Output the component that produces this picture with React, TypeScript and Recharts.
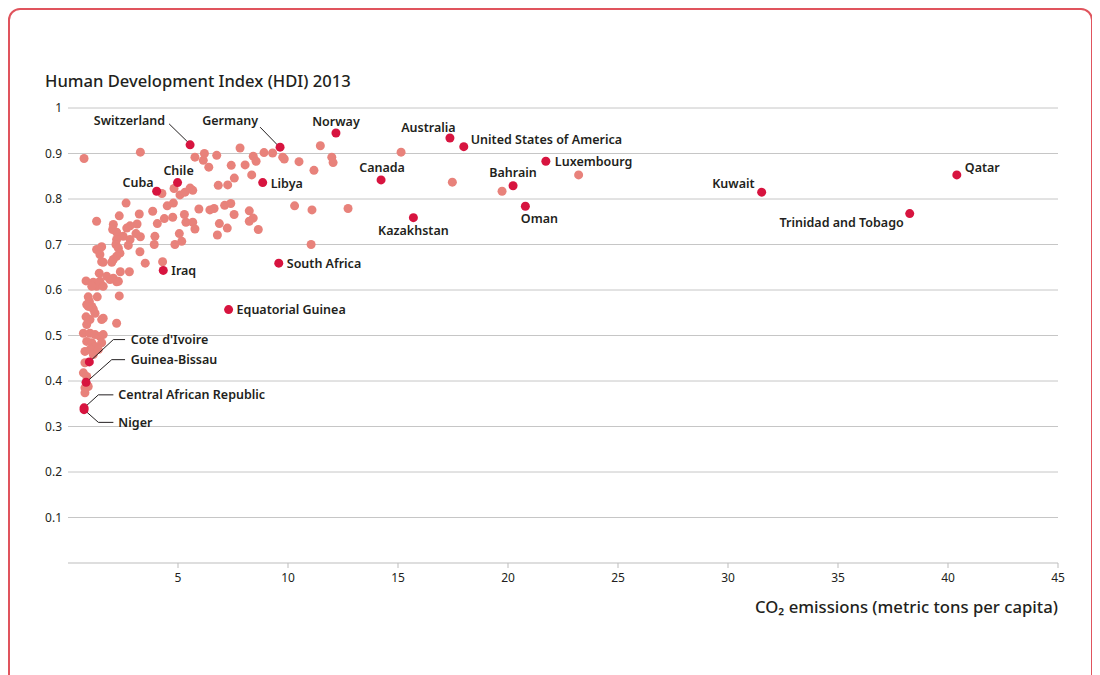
import { ScatterChart, Scatter, XAxis, YAxis, CartesianGrid } from 'recharts';

// CO2 emissions (metric tons per capita) vs HDI 2013
const xTicks = [5, 10, 15, 20, 25, 30, 35, 40, 45];
const yTicks = [0.1, 0.2, 0.3, 0.4, 0.5, 0.6, 0.7, 0.8, 0.9, 1];

const namedCountries = [
    'Switzerland', 'Germany', 'Norway', 'Australia', 'United States of America', 'Canada',
    'Kazakhstan', 'Bahrain', 'Oman', 'Luxembourg', 'Kuwait', 'Qatar', 'Trinidad and Tobago',
    'Chile', 'Cuba', 'Libya', 'Iraq', 'South Africa', 'Equatorial Guinea',
    "Cote d'Ivoire", 'Guinea-Bissau', 'Central African Republic', 'Niger',
];
const namedCO2 = [
    5.55, 9.64, 12.18, 17.36, 17.99, 14.23,
    15.7, 20.23, 20.79, 21.72, 31.53, 40.4, 38.26,
    4.98, 4.03, 8.85, 4.33, 9.58, 7.3,
    0.97, 0.82, 0.73, 0.73,
];
const namedHDI = [
    0.919, 0.914, 0.945, 0.934, 0.915, 0.842,
    0.759, 0.829, 0.784, 0.883, 0.815, 0.853, 0.768,
    0.836, 0.817, 0.836, 0.643, 0.659, 0.557,
    0.442, 0.397, 0.341, 0.337,
];

// other countries: [co2, hdi]
const otherCountries: [number, number][] = [
    [0.73, 0.889], [3.29, 0.903], [5.77, 0.892], [6.2, 0.9], [6.15, 0.885], [6.76, 0.896], [6.4, 0.87], [7.82, 0.912], [7.42, 0.874], [8.05, 0.875],
    [8.42, 0.894], [8.55, 0.883], [8.91, 0.902], [9.3, 0.901], [9.76, 0.892], [9.83, 0.888], [10.5, 0.882], [11.47, 0.917], [11.99, 0.892], [12.05, 0.88],
    [11.18, 0.863], [8.35, 0.853], [7.56, 0.846], [7.26, 0.831], [6.83, 0.83], [4.82, 0.823], [5.09, 0.809], [5.32, 0.815], [5.55, 0.824], [5.67, 0.819],
    [4.27, 0.812], [15.14, 0.903], [17.47, 0.837], [19.73, 0.817], [23.21, 0.853],
    [2.64, 0.791], [3.85, 0.773], [4.51, 0.785], [4.79, 0.791], [4.06, 0.746], [4.38, 0.757], [4.76, 0.76], [5.29, 0.766], [5.36, 0.749], [5.67, 0.749],
    [5.77, 0.734], [5.95, 0.778], [6.45, 0.776], [6.64, 0.779], [7.12, 0.786], [7.4, 0.79], [7.55, 0.766], [8.24, 0.774], [8.42, 0.758], [8.24, 0.751],
    [8.65, 0.733], [7.24, 0.736], [6.88, 0.746], [6.79, 0.721], [10.3, 0.785], [11.09, 0.776], [12.73, 0.779], [11.05, 0.7], [5.06, 0.724], [5.17, 0.707],
    [4.86, 0.7], [3.95, 0.718], [3.92, 0.7], [3.24, 0.767], [3.14, 0.745], [3.29, 0.717], [3.09, 0.724], [2.82, 0.741], [2.67, 0.736], [2.33, 0.763],
    [2.06, 0.744], [2.03, 0.733], [2.21, 0.727], [2.51, 0.718], [2.82, 0.711], [2.74, 0.698], [1.3, 0.751], [2.21, 0.711], [2.18, 0.7], [2.29, 0.692],
    [3.27, 0.684], [3.51, 0.659], [4.3, 0.662], [1.3, 0.689], [1.53, 0.695], [2.36, 0.681], [2.21, 0.674], [2.06, 0.667], [1.99, 0.661], [1.45, 0.678],
    [1.53, 0.662], [1.6, 0.661], [2.79, 0.64], [2.38, 0.64], [0.82, 0.62], [1.15, 0.617], [1.3, 0.608], [1.08, 0.608], [1.42, 0.637], [1.45, 0.619],
    [1.76, 0.63], [1.91, 0.623], [2.21, 0.618], [1.6, 0.608], [2.06, 0.626], [2.29, 0.619],
    [1.33, 0.585], [0.92, 0.585], [0.97, 0.575], [0.85, 0.568], [2.33, 0.587], [1.08, 0.564], [1.15, 0.558], [0.82, 0.541], [1.0, 0.535], [1.53, 0.535],
    [1.6, 0.538], [2.21, 0.527], [0.92, 0.564], [1.23, 0.549], [0.85, 0.524],
    [0.7, 0.505], [1.0, 0.505], [1.23, 0.502], [1.45, 0.498], [1.6, 0.502], [1.53, 0.484], [0.85, 0.487], [1.08, 0.484], [1.23, 0.476], [0.77, 0.465],
    [1.0, 0.469], [1.15, 0.458], [1.38, 0.469], [0.77, 0.44], [0.7, 0.418], [0.85, 0.41], [0.77, 0.385], [0.92, 0.388], [0.77, 0.374],
];

// label placement, pixel offsets from the dot
type Placement = { anchor: 'start' | 'middle' | 'end'; dx: number; dy: number; leader?: [number, number][] };
const placements: Record<string, Placement> = {
    'Switzerland': { anchor: 'end', dx: -25, dy: -24, leader: [[-21, -21], [-2, -2.5]] },
    'Germany': { anchor: 'end', dx: -22, dy: -27, leader: [[-20, -20], [-2, -1.5]] },
    'Norway': { anchor: 'middle', dx: 0, dy: -12 },
    'Australia': { anchor: 'middle', dx: -21.5, dy: -11 },
    'United States of America': { anchor: 'start', dx: 7, dy: -7 },
    'Canada': { anchor: 'middle', dx: 1, dy: -12 },
    'Kazakhstan': { anchor: 'middle', dx: 0, dy: 13 },
    'Bahrain': { anchor: 'middle', dx: 0, dy: -13 },
    'Oman': { anchor: 'middle', dx: 14, dy: 12 },
    'Luxembourg': { anchor: 'start', dx: 9, dy: 0 },
    'Kuwait': { anchor: 'end', dx: -7, dy: -9 },
    'Qatar': { anchor: 'start', dx: 8, dy: -7 },
    'Trinidad and Tobago': { anchor: 'end', dx: -6, dy: 9 },
    'Chile': { anchor: 'middle', dx: 1, dy: -12 },
    'Cuba': { anchor: 'end', dx: -3, dy: -9 },
    'Libya': { anchor: 'start', dx: 8, dy: 1 },
    'Iraq': { anchor: 'start', dx: 8, dy: 0 },
    'South Africa': { anchor: 'start', dx: 8, dy: 0 },
    'Equatorial Guinea': { anchor: 'start', dx: 8, dy: 0 },
    "Cote d'Ivoire": { anchor: 'start', dx: 41.5, dy: -22.3, leader: [[0, 0], [24, -22.3], [35.7, -22.3]] },
    'Guinea-Bissau': { anchor: 'start', dx: 44.7, dy: -22.7, leader: [[0, 0], [25.7, -22.7], [39, -22.7]] },
    'Central African Republic': { anchor: 'start', dx: 34.3, dy: -13, leader: [[0, 0], [14.3, -13], [29.3, -13]] },
    'Niger': { anchor: 'start', dx: 34.3, dy: 13, leader: [[0, 0], [14.3, 12.7], [29.3, 12.7]] },
};

const FONT = '"Noto Sans", "Open Sans", sans-serif';
const INK = '#231f20';

const otherData = otherCountries.map(([x, y]) => ({ x, y }));
const namedData = namedCountries.map((name, i) => ({ name, x: namedCO2[i], y: namedHDI[i] }));

function OtherDot(props: any) {
    return <circle cx={props.cx} cy={props.cy} r={4.5} fill="#e8827b" />;
}

function NamedDot(props: any) {
    const { cx, cy, payload } = props;
    const p = placements[payload.name];
    return (
        <g>
            {p && p.leader && (
                <polyline
                    points={p.leader.map(([a, b]) => `${cx + a},${cy + b}`).join(' ')}
                    fill="none"
                    stroke={INK}
                    strokeWidth={1}
                />
            )}
            <circle cx={cx} cy={cy} r={4.5} fill="#d7143f" />
            {p && (
                <text
                    x={cx + p.dx}
                    y={cy + p.dy}
                    textAnchor={p.anchor}
                    dominantBaseline="central"
                    fontFamily={FONT}
                    fontSize={12.5}
                    fontWeight={600}
                    fill={INK}
                >
                    {payload.name}
                </text>
            )}
        </g>
    );
}

export default function App() {
    return (
        <div
            style={{
                position: 'relative',
                width: 1085,
                height: 700,
                border: '2px solid #e0545d',
                borderRadius: 12,
                boxSizing: 'border-box',
                fontFamily: FONT,
            }}
        >
            <div style={{ position: 'absolute', left: -10, top: -10 }}>
                <ScatterChart width={1100} height={675} margin={{ top: 108, right: 42, bottom: 82, left: 8 }}>
                    <CartesianGrid vertical={false} stroke="#c6c6c6" strokeWidth={1} horizontalValues={yTicks} />
                    <XAxis
                        type="number"
                        dataKey="x"
                        domain={[0, 45]}
                        ticks={xTicks}
                        allowDataOverflow
                        axisLine={{ stroke: '#bdbdbd' }}
                        tickLine={{ stroke: '#bdbdbd' }}
                        tickSize={5}
                        tickMargin={5}
                        tick={{ fill: INK, fontSize: 12, fontFamily: FONT }}
                    />
                    <YAxis
                        type="number"
                        dataKey="y"
                        domain={[0, 1]}
                        ticks={yTicks}
                        width={60}
                        axisLine={false}
                        tickLine={false}
                        tickSize={0}
                        tickMargin={6}
                        tick={{ fill: INK, fontSize: 12, fontFamily: FONT }}
                    />
                    <Scatter data={otherData} shape={OtherDot} isAnimationActive={false} />
                    <Scatter data={namedData} shape={NamedDot} isAnimationActive={false} />
                </ScatterChart>
            </div>
            <div
                style={{
                    position: 'absolute',
                    left: 35,
                    top: 60.5,
                    fontSize: 16.6,
                    lineHeight: '20px',
                    fontWeight: 500,
                    color: INK,
                    whiteSpace: 'nowrap',
                }}
            >
                Human Development Index (HDI) 2013
            </div>
            <div
                style={{
                    position: 'absolute',
                    right: 33,
                    top: 586.5,
                    fontSize: 16.7,
                    lineHeight: '20px',
                    fontWeight: 500,
                    color: INK,
                    whiteSpace: 'nowrap',
                }}
            >
                CO₂ emissions (metric tons per capita)
            </div>
        </div>
    );
}
